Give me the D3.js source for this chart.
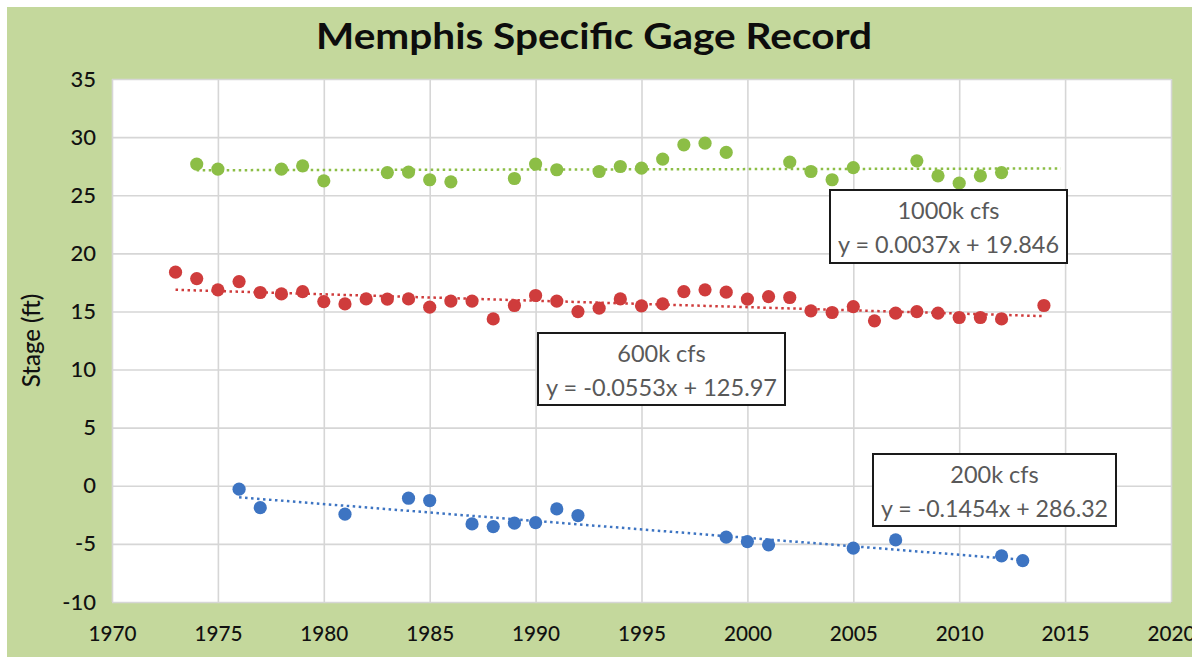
<!DOCTYPE html>
<html>
<head>
<meta charset="utf-8">
<script src="https://cdn.jsdelivr.net/npm/d3@7"></script>
<style>
  body { margin: 0; background: #fff; }
  text { font-family: Lato, "Open Sans", sans-serif; }
</style>
</head>
<body>
<script>
// series: 200k, 600k, 1000k cfs
let years200 = [1976, 1977, 1981, 1984, 1985, 1987, 1988, 1989, 1990, 1991, 1992, 1999, 2000, 2001, 2005, 2007, 2012, 2013];
let stage200 = [-0.29, -1.88, -2.44, -1.07, -1.27, -3.28, -3.51, -3.22, -3.17, -1.99, -2.56, -4.42, -4.80, -5.08, -5.37, -4.66, -6.03, -6.44];

let years600 = [1973, 1974, 1975, 1976, 1977, 1978, 1979, 1980, 1981, 1982, 1983, 1984, 1985, 1986, 1987, 1988, 1989, 1990, 1991, 1992, 1993,
  1994, 1995, 1996, 1997, 1998, 1999, 2000, 2001, 2002, 2003, 2004, 2005, 2006, 2007, 2008, 2009, 2010, 2011, 2012, 2014];
let stage600 = [18.38, 17.83, 16.86, 17.57, 16.63, 16.51, 16.71, 15.85, 15.65, 16.08, 16.06, 16.08, 15.37, 15.89, 15.89, 14.36, 15.51, 16.37, 15.89, 14.99, 15.28,
  16.08, 15.48, 15.65, 16.71, 16.86, 16.66, 16.06, 16.28, 16.20, 15.05, 14.91, 15.42, 14.19, 14.85, 14.99, 14.85, 14.48, 14.48, 14.36, 15.51];

let years1000 = [1974, 1975, 1978, 1979, 1980, 1983, 1984, 1985, 1986, 1989, 1990, 1991, 1993, 1994, 1995, 1996, 1997, 1998, 1999,
  2002, 2003, 2004, 2005, 2008, 2009, 2010, 2011, 2012];
let stage1000 = [27.68, 27.25, 27.25, 27.53, 26.24, 26.95, 26.99, 26.33, 26.15, 26.44, 27.68, 27.19, 27.04, 27.47, 27.33, 28.11, 29.34, 29.48, 28.68,
  27.85, 27.04, 26.33, 27.38, 27.96, 26.67, 26.04, 26.67, 26.95];

// linear trendlines as printed on the chart
let seriesNames = ['200k cfs', '600k cfs', '1000k cfs'];
let trendSlope = [-0.1454, -0.0553, 0.0037];
let trendIntercept = [286.32, 125.97, 19.846];
let trendFrom = [1976, 1973, 1974];
let trendTo = [2013, 2014, 2014.8];
let trendText = ['y = -0.1454x + 286.32', 'y = -0.0553x + 125.97', 'y = 0.0037x + 19.846'];

let xTicks = d3.range(1970, 2021, 5);
let yTicks = d3.range(-10, 36, 5);

let colors = ['#3d74c2', '#cf3c3c', '#8cbe46'];

let margin = { top: 79, right: 21, bottom: 55, left: 112 };
let width = 1192 - margin.left - margin.right;
let height = 657 - margin.top - margin.bottom;

let series = [
  { years: years200, stage: stage200 },
  { years: years600, stage: stage600 },
  { years: years1000, stage: stage1000 }
].map(function (s, i) {
  return {
    name: seriesNames[i],
    color: colors[i],
    points: s.years.map(function (yr, j) { return { year: yr, stage: s.stage[j] }; }),
    trend: [trendFrom[i], trendTo[i]].map(function (yr) {
      return { year: yr, stage: trendSlope[i] * yr + trendIntercept[i] };
    }),
    eq: trendText[i]
  };
});

let root = d3.select('body').append('svg')
    .attr('width', 1192)
    .attr('height', 657);

// green chart area
root.append('rect')
    .attr('x', 7).attr('y', 7)
    .attr('width', 1192 - 7).attr('height', 657 - 7)
    .attr('fill', '#c4d89c');

root.append('text')
    .attr('x', 594)
    .attr('y', 49)
    .attr('text-anchor', 'middle')
    .attr('font-size', 36)
    .attr('font-weight', 700)
    .attr('fill', '#0d0d0d')
    .attr('textLength', 556)
    .attr('lengthAdjust', 'spacingAndGlyphs')
    .text('Memphis Specific Gage Record');

let svg = root.append('g')
    .attr('transform', 'translate(' + margin.left + ',' + margin.top + ')');

let x = d3.scaleLinear().domain([1970, 2020]).range([0, width]);
let y = d3.scaleLinear().domain([-10, 35]).range([height, 0]);

svg.append('rect')
    .attr('width', width)
    .attr('height', height)
    .attr('fill', '#fff');

// gridlines
svg.append('g')
    .attr('class', 'grid')
    .call(d3.axisLeft(y).tickValues(yTicks).tickSize(-width).tickFormat(''))
    .call(function (g) { g.select('.domain').remove(); });
svg.append('g')
    .attr('class', 'grid')
    .attr('transform', 'translate(0,' + height + ')')
    .call(d3.axisBottom(x).tickValues(xTicks).tickSize(-height).tickFormat(''))
    .call(function (g) { g.select('.domain').remove(); });
svg.selectAll('.grid line')
    .attr('stroke', '#d6d6d6')
    .attr('stroke-width', 1.6);

// axes labels (plain hyphen for negatives, like Excel)
let yAxis = svg.append('g')
    .call(d3.axisLeft(y).tickValues(yTicks).tickFormat(function (d) { return String(d); }).tickSize(0).tickPadding(16));
let xAxis = svg.append('g')
    .attr('transform', 'translate(0,' + height + ')')
    .call(d3.axisBottom(x).tickValues(xTicks).tickFormat(function (d) { return String(d); }).tickSize(0).tickPadding(23));
[xAxis, yAxis].forEach(function (g) {
  g.select('.domain').remove();
  g.selectAll('text')
      .attr('font-family', 'Lato, sans-serif')
      .attr('font-size', 22)
      .attr('font-weight', 500)
      .attr('fill', '#111');
});
xAxis.selectAll('text')
    .attr('textLength', 48)
    .attr('lengthAdjust', 'spacingAndGlyphs');

root.append('text')
    .attr('transform', 'translate(40,' + (margin.top + height / 2) + ') rotate(-90)')
    .attr('text-anchor', 'middle')
    .attr('font-size', 24)
    .attr('font-weight', 500)
    .attr('fill', '#111')
    .text('Stage (ft)');

let line = d3.line()
    .x(function (d) { return x(d.year); })
    .y(function (d) { return y(d.stage); });

// trendlines
svg.selectAll('.trend')
    .data(series)
  .enter().append('path')
    .attr('class', 'trend')
    .attr('d', function (d) { return line(d.trend); })
    .attr('fill', 'none')
    .attr('stroke', function (d) { return d.color; })
    .attr('stroke-width', 2.5)
    .attr('stroke-dasharray', '2.5,3.5');

// markers
svg.selectAll('.series')
    .data(series)
  .enter().append('g')
    .attr('class', 'series')
    .attr('fill', function (d) { return d.color; })
  .selectAll('circle')
    .data(function (d) { return d.points; })
  .enter().append('circle')
    .attr('cx', function (d) { return x(d.year); })
    .attr('cy', function (d) { return y(d.stage); })
    .attr('r', 6.6);

// equation boxes (pixel layout in the svg)
let boxes = [
  { x: 873, y: 454, w: 243, h: 72 },
  { x: 538, y: 333, w: 247, h: 72 },
  { x: 830, y: 190, w: 237, h: 73 }
];

let note = root.selectAll('.note')
    .data(series)
  .enter().append('g')
    .attr('class', 'note')
    .attr('transform', function (d, i) { return 'translate(' + boxes[i].x + ',' + boxes[i].y + ')'; });

note.append('rect')
    .attr('width', function (d, i) { return boxes[i].w; })
    .attr('height', function (d, i) { return boxes[i].h; })
    .attr('fill', '#fff')
    .attr('stroke', '#1a1a1a')
    .attr('stroke-width', 2);

note.append('text')
    .attr('x', function (d, i) { return boxes[i].w / 2; })
    .attr('y', 29)
    .attr('text-anchor', 'middle')
    .attr('font-size', 23.5)
    .attr('fill', '#595959')
    .text(function (d) { return d.name; });

note.append('text')
    .attr('x', function (d, i) { return boxes[i].w / 2; })
    .attr('y', 63)
    .attr('text-anchor', 'middle')
    .attr('font-size', 23.5)
    .attr('fill', '#595959')
    .attr('textLength', function (d, i) { return boxes[i].w - 16; })
    .attr('lengthAdjust', 'spacingAndGlyphs')
    .text(function (d) { return d.eq; });
</script>
</body>
</html>
